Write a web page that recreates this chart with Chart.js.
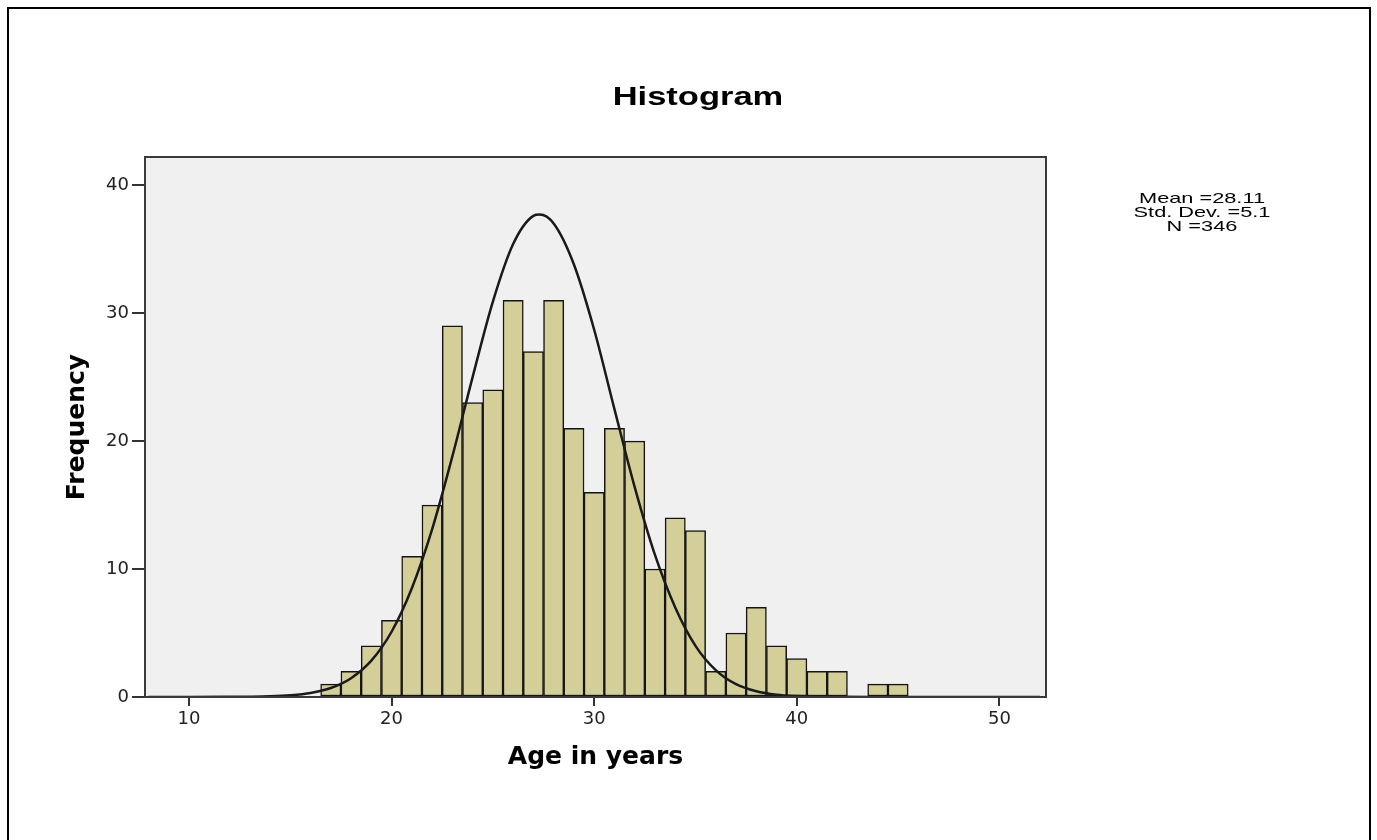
<!DOCTYPE html>
<html>
<head>
<meta charset="utf-8">
<title>Histogram</title>
<script src="https://cdn.jsdelivr.net/npm/chart.js@4.4.1/dist/chart.umd.min.js"></script>
<style>
  html, body { margin: 0; padding: 0; background: #fff; overflow: hidden; }
  #wrap { position: relative; width: 1377px; height: 840px; }
  #frame {
    position: absolute; left: 7px; top: 7px; width: 1364px; height: 900px;
    border: 2px solid #000; box-sizing: border-box;
  }
  #box { position: absolute; left: 0; top: 0; width: 1377px; height: 840px; }
  #title {
    position: absolute; left: 398px; top: 84px; width: 600px;
    text-align: center; font: bold 25px "Liberation Sans", Arial, sans-serif;
    line-height: 25px; color: #000;
    transform: scaleX(1.38); transform-origin: center;
  }
  #stats {
    position: absolute; left: 1052px; top: 191px; width: 300px;
    text-align: center; font: 15px "Liberation Sans", Arial, sans-serif;
    line-height: 14px; color: #000;
    transform: scaleX(1.45); transform-origin: center;
  }
</style>
</head>
<body>
<div id="wrap">
  <div id="frame"></div>
  <div id="box"><canvas id="histo"></canvas></div>
  <div id="title">Histogram</div>
  <div id="stats">Mean =28.11<br>Std. Dev. =5.1<br>N =346</div>
</div>
<script>
// bins are one year wide, centred on the whole year
const ages = [17, 18, 19, 20, 21, 22, 23, 24, 25, 26, 27, 28, 29, 30, 31,
  32, 33, 34, 35, 36, 37, 38, 39, 40, 41, 42, 44, 45];
const counts = [1, 2, 4, 6, 11, 15, 29, 23, 24, 31, 27, 31, 21, 16, 21,
  20, 10, 14, 13, 2, 5, 7, 4, 3, 2, 2, 1, 1];

// normal curve
const curveAges = [8, 10, 12, 13, 14, 15, 16, 17, 18, 19, 20, 21, 22, 23, 24,
  25, 26, 27, 27.3, 28, 29, 30, 31, 32, 33, 34, 35, 36, 37, 38, 39, 40, 41, 42, 44, 48, 52];
const curveFreq = [0, 0, 0.01, 0.02, 0.05, 0.13, 0.31, 0.7, 1.47, 2.84, 5.1, 8.5, 13.1, 18.8, 25.0,
  30.9, 35.4, 37.6, 37.7, 37.0, 33.8, 28.7, 22.5, 16.4, 11.1, 7.0, 4.0, 2.1, 1.0, 0.45, 0.18, 0.07, 0.02, 0.01, 0, 0, 0];

const xTitle = "Age in years";
const yTitle = "Frequency";

// grey plot area with a dark frame round it
const plotFrame = {
  id: "plotFrame",
  beforeDraw(chart) {
    const { ctx, chartArea: a } = chart;
    ctx.save();
    ctx.fillStyle = "#f0f0f0";
    ctx.fillRect(a.left, a.top, a.right - a.left, a.bottom - a.top);
    ctx.restore();
  },
  afterDraw(chart) {
    const { ctx, chartArea: a } = chart;
    ctx.save();
    ctx.strokeStyle = "#3a3a3a";
    ctx.lineWidth = 2;
    ctx.strokeRect(a.left, a.top, a.right - a.left, a.bottom - a.top);
    ctx.restore();
  },
};

const tickFont = { family: "DejaVu Sans", size: 18 };
const titleFont = { family: "DejaVu Sans", size: 25, weight: "bold" };

new Chart(document.getElementById("histo"), {
  data: {
    datasets: [
      {
        type: "line",
        data: curveAges.map((a, i) => ({ x: a, y: curveFreq[i] })),
        borderColor: "#1a1a1a",
        borderWidth: 2.5,
        pointRadius: 0,
        cubicInterpolationMode: "monotone",
        order: 0,
      },
      {
        type: "bar",
        data: ages.map((a, i) => ({ x: a, y: counts[i] })),
        backgroundColor: "#d4cf98",
        borderColor: "#151515",
        borderWidth: 1.5,
        borderSkipped: false,
        barPercentage: 1,
        categoryPercentage: 1,
        order: 1,
      },
    ],
  },
  options: {
    responsive: true,
    maintainAspectRatio: false,
    animation: false,
    layout: { padding: { left: 50, top: 157, right: 331, bottom: 53 } },
    plugins: {
      legend: { display: false },
      tooltip: { enabled: false },
      title: { display: false },
    },
    scales: {
      x: {
        type: "linear",
        min: 7.83,
        max: 52.3,
        offset: false,
        afterFit: (s) => { s.height = 90; },
        border: { display: false },
        grid: { offset: false, drawOnChartArea: false, tickLength: 9, color: "#333", lineWidth: 2 },
        ticks: { stepSize: 10, includeBounds: false, font: tickFont, color: "#222", padding: 3, maxRotation: 0 },
        title: { display: true, text: xTitle, font: titleFont, color: "#000", padding: { top: 0, bottom: 15 } },
      },
      y: {
        min: 0,
        max: 42.2,
        afterFit: (s) => { s.width = 95; },
        border: { display: false },
        grid: { drawOnChartArea: false, tickLength: 13, color: "#333", lineWidth: 2 },
        ticks: { stepSize: 10, includeBounds: false, font: tickFont, color: "#222", padding: 3 },
        title: { display: true, text: yTitle, font: titleFont, color: "#000", padding: { top: 12, bottom: 0 } },
      },
    },
  },
  plugins: [plotFrame],
});
</script>
</body>
</html>
